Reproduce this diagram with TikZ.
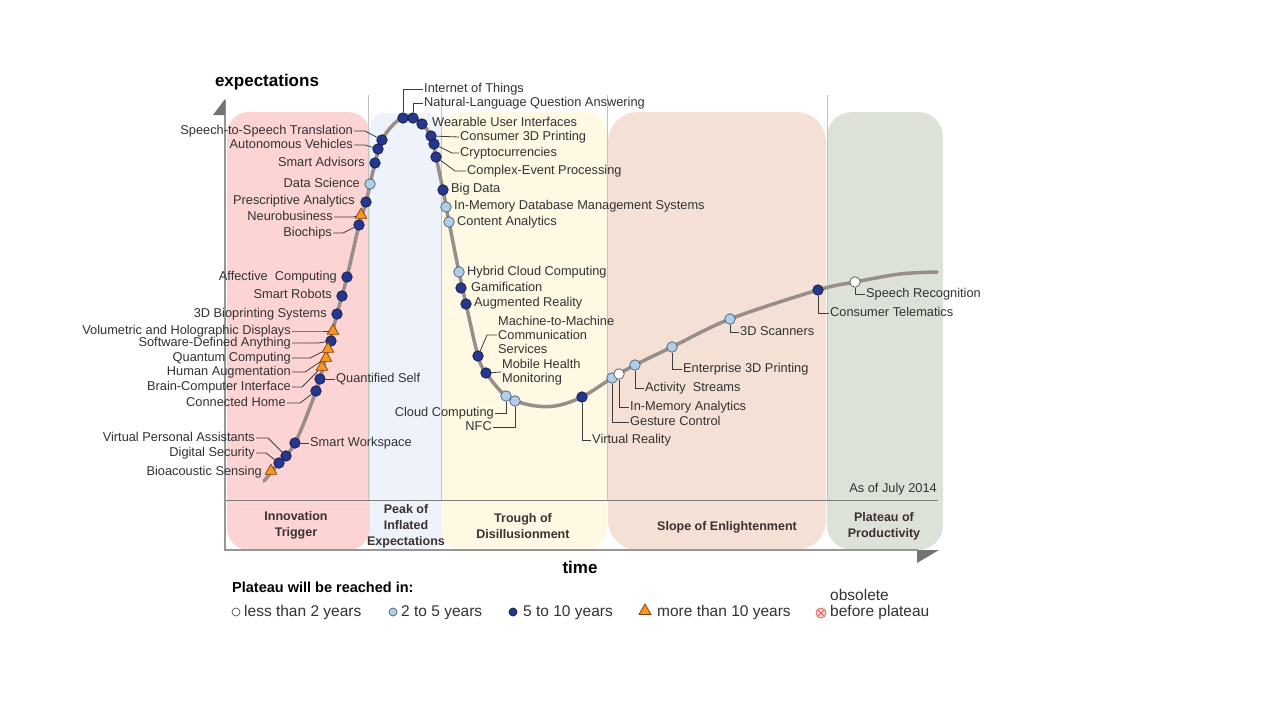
\documentclass[tikz,border=0pt]{standalone}
\usepackage{fontspec}
\setmainfont{Liberation Sans}
\usetikzlibrary{shapes.geometric}
\definecolor{pinkr}{RGB}{253,212,212}
\definecolor{bluer}{RGB}{238,242,250}
\definecolor{yellowr}{RGB}{255,248,227}
\definecolor{peachr}{RGB}{244,224,212}
\definecolor{greenr}{RGB}{220,226,216}
\definecolor{curvec}{RGB}{152,142,137}
\definecolor{txt}{RGB}{50,50,50}
\definecolor{phasec}{RGB}{60,48,48}
\definecolor{navyf}{RGB}{38,56,140}
\definecolor{navyd}{RGB}{20,24,70}
\definecolor{lbluef}{RGB}{176,206,232}
\definecolor{lblued}{RGB}{72,92,120}
\definecolor{whited}{RGB}{80,80,80}
\definecolor{orangef}{RGB}{246,150,30}
\definecolor{oranged}{RGB}{130,60,10}
\definecolor{axisc}{RGB}{150,150,150}
\definecolor{arrc}{RGB}{115,115,115}
\definecolor{sepc}{RGB}{195,195,195}
\definecolor{hsepc}{RGB}{125,125,125}
\definecolor{leadc}{RGB}{60,60,60}
\definecolor{obsc}{RGB}{225,100,100}
\definecolor{obsf}{RGB}{252,215,215}
\begin{document}
\begin{tikzpicture}[x=1pt,y=-1pt,
  lab/.style={font=\fontsize{12.8}{14}\selectfont, text=txt, inner sep=1pt, text height=9pt, text depth=2.5pt},
  labm/.style={font=\fontsize{12.8}{14}\selectfont, text=txt, inner sep=1pt, align=left},
  leg/.style={font=\fontsize{15.5}{17}\selectfont, text=txt, inner sep=0pt, text height=11pt, text depth=3pt},
  phase/.style={font=\bfseries\fontsize{12.5}{16}\selectfont, text=phasec, align=center, inner sep=0pt},
  axlab/.style={font=\bfseries\fontsize{17}{20}\selectfont, text=black, inner sep=0pt},
  mA/.style={circle, draw=navyd, fill=navyf, line width=0.7pt, minimum size=10.5pt, inner sep=0pt},
  mB/.style={circle, draw=lblued, fill=lbluef, line width=0.7pt, minimum size=10.5pt, inner sep=0pt},
  mW/.style={circle, draw=whited, fill=white, line width=0.7pt, minimum size=10.5pt, inner sep=0pt},
  mT/.style={regular polygon, regular polygon sides=3, draw=oranged, fill=orangef, line width=0.7pt, minimum size=13.5pt, inner sep=0pt},
  lead/.style={draw=leadc, line width=0.8pt},
]
\useasboundingbox (0,0) rectangle (1280,720);
\fill[white] (0,0) rectangle (1280,720);
% phase regions
\fill[pinkr, rounded corners=22pt] (227,112) rectangle (370,550);
\fill[bluer, rounded corners=15pt] (370,113) rectangle (442,550);
\fill[yellowr, rounded corners=22pt] (441,112) rectangle (607,550);
\fill[peachr, rounded corners=30pt] (608,112) rectangle (826,550);
\fill[greenr, rounded corners=25pt] (827,112) rectangle (943,550);
% separators
\foreach \xx in {368,441,607,827} \draw[sepc, line width=1pt] (\xx,95) -- (\xx,500);
\draw[hsepc, line width=1pt] (225,500) -- (938,500);
% axes
\draw[axisc, line width=1.5pt] (225,100) -- (225,550) -- (918,550);
\fill[arrc] (225,99) -- (225,115) -- (213,115) -- cycle;
\fill[arrc] (917,550) -- (939,550) -- (917,563) -- cycle;
\node[axlab] (ylab) at (267,82) {expectations};
\node[axlab] (xlab) at (580,567) {time};
% curve
\draw[curvec, line width=3.5pt, line cap=round] plot[smooth, tension=0.55] coordinates {
(264,481) (279,463) (295,443) (316,391) (328,349) (337,314) (347,277) (359,225) (366,202) (375,163) (382,140) (392,126) (403,117) (413,117) (422,124) (431,136) (436,157) (443,190) (449,222) (459,272) (466,304) (478,356) (486,373) (506,396) (530,405) (555,406) (582,397) (612,378) (635,365) (672,347) (730,319) (818,290) (855,282) (900,274) (937,272)};
% markers
\node[mA] (s2s) at (382,140) {};
\node[mA] (av) at (378,149) {};
\node[mA] (sa) at (375,163) {};
\node[mB] (ds) at (370,184) {};
\node[mA] (pa) at (366,202) {};
\node[mA] (bc) at (359,225) {};
\node[mT] (nb) at (361,215) {};
\node[mA] (ac) at (347,277) {};
\node[mA] (sr) at (342,296) {};
\node[mA] (bp) at (337,314) {};
\node[mA] (sd) at (331,341) {};
\node[mT] (vh) at (333,331) {};
\node[mA] (qs) at (320,379) {};
\node[mA] (ch) at (316,391) {};
\node[mT] (bci) at (322,367) {};
\node[mT] (ha) at (326,358) {};
\node[mT] (qc) at (328,349) {};
\node[mA] (sw) at (295,443) {};
\node[mA] (vpa) at (286,456) {};
\node[mA] (dsec) at (279,463) {};
\node[mT] (bio) at (271,471) {};
\node[mA] (iot) at (403,118) {};
\node[mA] (nlqa) at (413,118) {};
\node[mA] (wui) at (422,124) {};
\node[mA] (c3d) at (431,136) {};
\node[mA] (cry) at (434,144) {};
\node[mA] (cep) at (436,157) {};
\node[mA] (bd) at (443,190) {};
\node[mB] (imdb) at (446,207) {};
\node[mB] (ca) at (449,222) {};
\node[mB] (hcc) at (459,272) {};
\node[mA] (gam) at (461,288) {};
\node[mA] (ar) at (466,304) {};
\node[mA] (m2m) at (478,356) {};
\node[mA] (mhm) at (486,373) {};
\node[mB] (cc) at (506,396) {};
\node[mB] (nfc) at (515,401) {};
\node[mA] (vr) at (582,397) {};
\node[mB] (gc) at (612,378) {};
\node[mW] (ima) at (619,374) {};
\node[mB] (as) at (635,365) {};
\node[mB] (e3d) at (672,347) {};
\node[mB] (s3d) at (730,319) {};
\node[mA] (ct) at (818,290) {};
\node[mW] (sprec) at (855,282) {};
% left labels
\node[lab, anchor=east] (l-s2s) at (354,131) {Speech-to-Speech Translation};
\node[lab, anchor=east] (l-av) at (354,145) {Autonomous Vehicles};
\node[lab, anchor=east] (l-sa) at (366,163) {Smart Advisors};
\node[lab, anchor=east] (l-ds) at (361,184) {Data Science};
\node[lab, anchor=east] (l-pa) at (356,201) {Prescriptive Analytics};
\node[lab, anchor=east] (l-nb) at (334,217) {Neurobusiness};
\node[lab, anchor=east] (l-bc) at (333,233) {Biochips};
\node[lab, anchor=east] (l-ac) at (338,277) {Affective\ \ Computing};
\node[lab, anchor=east] (l-sr) at (333,295) {Smart Robots};
\node[lab, anchor=east] (l-bp) at (328,314) {3D Bioprinting Systems};
\node[lab, anchor=east] (l-vh) at (292,331) {Volumetric and Holographic Displays};
\node[lab, anchor=east] (l-sd) at (292,343) {Software-Defined Anything};
\node[lab, anchor=east] (l-qc) at (292,358) {Quantum Computing};
\node[lab, anchor=east] (l-ha) at (292,372) {Human Augmentation};
\node[lab, anchor=east] (l-bci) at (292,387) {Brain-Computer Interface};
\node[lab, anchor=east] (l-ch) at (287,403) {Connected Home};
\node[lab, anchor=east] (l-vpa) at (256,438) {Virtual Personal Assistants};
\node[lab, anchor=east] (l-dsec) at (256,453) {Digital Security};
\node[lab, anchor=east] (l-bio) at (263,472) {Bioacoustic Sensing};
% right labels
\node[lab, anchor=west] (l-qs) at (335,379) {Quantified Self};
\node[lab, anchor=west] (l-sw) at (309,443) {Smart Workspace};
\node[lab, anchor=west] (l-iot) at (423,89) {Internet of Things};
\node[lab, anchor=west] (l-nlqa) at (423,103) {Natural-Language Question Answering};
\node[lab, anchor=west] (l-wui) at (431,123) {Wearable User Interfaces};
\node[lab, anchor=west] (l-c3d) at (459,137) {Consumer 3D Printing};
\node[lab, anchor=west] (l-cry) at (459,153) {Cryptocurrencies};
\node[lab, anchor=west] (l-cep) at (466,171) {Complex-Event Processing};
\node[lab, anchor=west] (l-bd) at (450,189) {Big Data};
\node[lab, anchor=west] (l-imdb) at (453,206) {In-Memory Database Management Systems};
\node[lab, anchor=west] (l-ca) at (456,222) {Content Analytics};
\node[lab, anchor=west] (l-hcc) at (466,272) {Hybrid Cloud Computing};
\node[lab, anchor=west] (l-gam) at (470,288) {Gamification};
\node[lab, anchor=west] (l-ar) at (473,303) {Augmented Reality};
\node[labm, anchor=west] (l-m2m) at (497,335) {Machine-to-Machine\\Communication\\Services};
\node[labm, anchor=west] (l-mhm) at (501,372) {Mobile Health\\Monitoring};
\node[lab, anchor=east] (l-cc) at (495,413) {Cloud Computing};
\node[lab, anchor=east] (l-nfc) at (493,427) {NFC};
\node[lab, anchor=west] (l-vr) at (591,440) {Virtual Reality};
\node[lab, anchor=west] (l-gc) at (629,422) {Gesture Control};
\node[lab, anchor=west] (l-ima) at (629,407) {In-Memory Analytics};
\node[lab, anchor=west] (l-as) at (644,388) {Activity\ \ Streams};
\node[lab, anchor=west] (l-e3d) at (682,369) {Enterprise 3D Printing};
\node[lab, anchor=west] (l-s3d) at (739,332) {3D Scanners};
\node[lab, anchor=west] (l-ct) at (829,313) {Consumer Telematics};
\node[lab, anchor=west] (l-sprec) at (865,294) {Speech Recognition};
\node[lab, anchor=east] (asof) at (938,489) {As of July 2014};
% leaders left
\draw[lead] (l-s2s.east) -- ++(11,0) -- (s2s);
\draw[lead] (l-av.east) -- ++(11,0) -- (av);
\draw[lead] (l-nb.east) -- ++(19,0) -- (nb);
\draw[lead] (l-bc.east) -- ++(10,0) -- (bc);
\draw[lead] (l-vh.east) -- ++(26,0) -- (vh);
\draw[lead] (l-sd.east) -- ++(26,0) -- (sd);
\draw[lead] (l-qc.east) -- ++(18,0) -- (qc);
\draw[lead] (l-ha.east) -- ++(13,0) -- (ha);
\draw[lead] (l-bci.east) -- ++(10,0) -- (bci);
\draw[lead] (l-ch.east) -- ++(13,0) -- (ch);
\draw[lead] (l-vpa.east) -- ++(12,0) -- (vpa);
\draw[lead] (l-dsec.east) -- ++(10,0) -- (dsec);
% leaders right
\draw[lead] (qs) -- (l-qs.west);
\draw[lead] (sw) -- (l-sw.west);
\draw[lead] (iot.north) |- (l-iot.west);
\draw[lead] (nlqa.north) |- (l-nlqa.west);
\draw[lead] (c3d) -- (l-c3d.west);
\draw[lead] (cry) -- ([xshift=-7pt]l-cry.west) -- (l-cry.west);
\draw[lead] (cep) -- ([xshift=-11pt]l-cep.west) -- (l-cep.west);
\draw[lead] (m2m) -- ([xshift=-10pt]l-m2m.west) -- (l-m2m.west);
\draw[lead] (mhm) -- (l-mhm.west);
\draw[lead] (l-cc.east) -| (cc.south);
\draw[lead] (l-nfc.east) -| (nfc.south);
\draw[lead] (vr.south) |- (l-vr.west);
\draw[lead] (gc.south) |- (l-gc.west);
\draw[lead] (ima.south) |- (l-ima.west);
\draw[lead] (as.south) |- (l-as.west);
\draw[lead] (e3d.south) |- (l-e3d.west);
\draw[lead] (s3d.south) |- (l-s3d.west);
\draw[lead] (ct.south) |- (l-ct.west);
\draw[lead] (sprec.south) |- (l-sprec.west);
% phase labels
\node[phase] (p1) at (296,525) {Innovation\\Trigger};
\node[phase] (p2) at (406,526) {Peak of\\Inflated\\Expectations};
\node[phase] (p3) at (523,526) {Trough of\\Disillusionment};
\node[phase] (p4) at (727,527) {Slope of Enlightenment};
\node[phase] (p5) at (884,526) {Plateau of\\Productivity};
% legend
\node[font=\bfseries\fontsize{14.5}{17}\selectfont, text=black, anchor=west, inner sep=0pt] (lgh) at (232,587) {Plateau will be reached in:};
\node[mW, minimum size=8pt] (lg1) at (236,612) {};
\node[leg, anchor=west] (lg1t) at (244,612) {less than 2 years};
\node[mB, minimum size=8pt] (lg2) at (393,612) {};
\node[leg, anchor=west] (lg2t) at (401,612) {2 to 5 years};
\node[mA, minimum size=8pt] (lg3) at (513,612) {};
\node[leg, anchor=west] (lg3t) at (523,612) {5 to 10 years};
\node[mT, minimum size=14pt] (lg4) at (645,611) {};
\node[leg, anchor=west] (lg4t) at (657,612) {more than 10 years};
\node[circle, draw=obsc, fill=obsf, line width=0.8pt, minimum size=10pt, inner sep=0pt] (lg5) at (821,613) {};
\draw[obsc, line width=0.8pt] (lg5.north west) -- (lg5.south east);
\draw[obsc, line width=0.8pt] (lg5.north east) -- (lg5.south west);
\node[leg, anchor=west] (lg5a) at (830,596) {obsolete};
\node[leg, anchor=west] (lg5b) at (830,612) {before plateau};
\end{tikzpicture}
\end{document}
